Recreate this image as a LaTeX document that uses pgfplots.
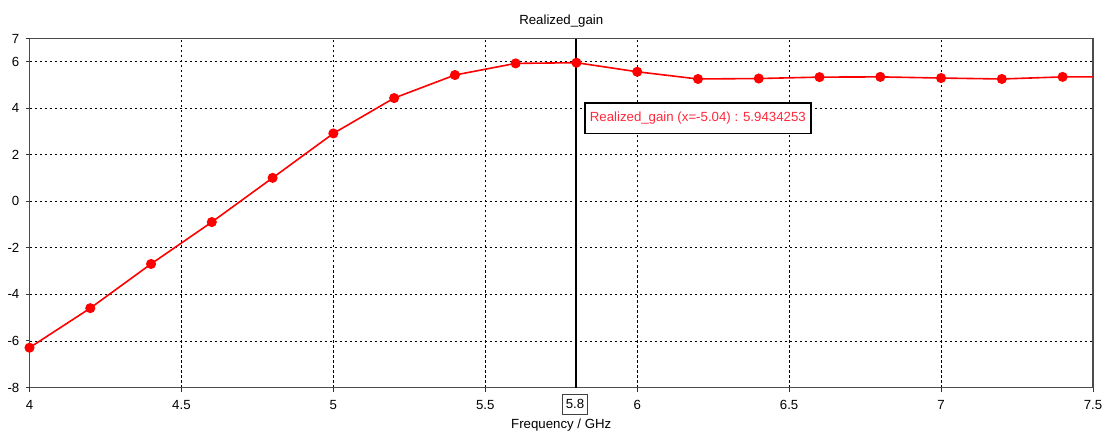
\documentclass[border=0pt]{standalone}
\usepackage{pgfplots}
\pgfplotsset{compat=1.18}
\usepackage{fontspec}
\setmainfont{Liberation Sans}
\definecolor{annot}{RGB}{255,40,60}
\begin{document}
\fontsize{13.3}{16}\selectfont
\begin{tikzpicture}
\useasboundingbox (-29.5bp,-49.5bp) rectangle (1083.5bp,387.5bp);
\begin{axis}[
  at={(0,0)}, anchor=south west,
  scale only axis, width=1063.5bp, height=349bp,
  xmin=4, xmax=7.5, ymin=-8, ymax=7,
  xtick={4.5,5,5.5,6,6.5,7},
  ytick={-6,-4,-2,0,2,4,6},
  extra x ticks={4,7.5},
  extra y ticks={-8,7},
  extra x tick style={grid=none},
  extra y tick style={grid=none},
  xticklabels={4.5,5,5.5,6,6.5,7},
  extra x tick labels={4,7.5},
  yticklabels={-6,-4,-2,0,2,4,6},
  extra y tick labels={-8,7},
  grid=major,
  major grid style={black, line width=0.9bp, dash pattern=on 2.5bp off 2.5bp},
  axis line style={draw=black!70, line width=1.1bp},
  tick style={black!80, line width=1bp},
  tick align=outside,
  major tick length=4bp,
  xtick pos=left, ytick pos=left,
  xticklabel style={anchor=north, inner sep=0pt, yshift=-9bp},
  yticklabel style={anchor=east, inner sep=0pt, xshift=-6bp},
  /pgf/number format/assume math mode=true,
  clip=true,
]
\draw[black, line width=2bp] (axis cs:5.8,-8) -- (axis cs:5.8,7);
\addplot[red, line width=1.6bp, mark=*, mark size=4.2bp, mark options={fill=red, draw=red}, mark indices={1,...,18}] coordinates {
(4.0,-6.29) (4.2,-4.59) (4.4,-2.69) (4.6,-0.89) (4.8,1.01) (5.0,2.92)
(5.2,4.44) (5.4,5.43) (5.6,5.93) (5.8,5.96) (6.0,5.57) (6.2,5.26)
(6.4,5.28) (6.6,5.34) (6.8,5.35) (7.0,5.30) (7.2,5.26) (7.4,5.35)
(7.5,5.35)
};
\node[draw=black, line width=1.6bp, fill=white, text=annot, anchor=west, inner xsep=5bp, minimum height=30.5bp] at (axis cs:5.825,3.58) {Realized\_gain (x=-5.04) : 5.9434253};
\end{axis}
\node at (531.75bp,387.5bp-21.5bp) {Realized\_gain};
\node[draw=black!75, line width=0.8bp, fill=white, inner xsep=3bp, minimum height=20bp] at (545.5bp,-16.5bp) {5.8};
\node at (531.75bp,-37.5bp) {Frequency / GHz};
\end{tikzpicture}
\end{document}
